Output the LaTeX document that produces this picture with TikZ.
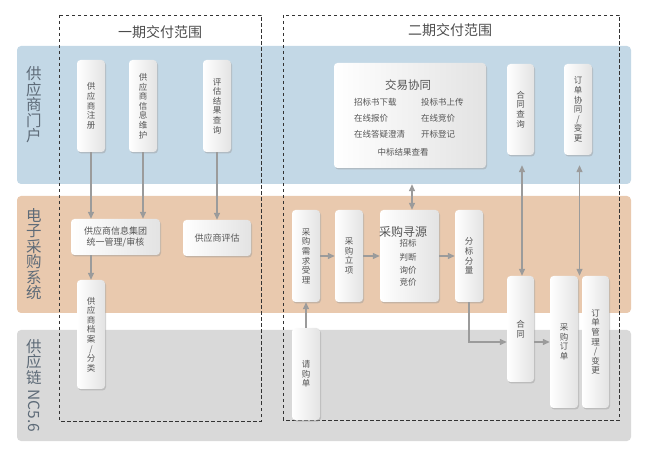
\documentclass[tikz,border=0pt]{standalone}
\usepackage{fontspec}
\setmainfont{Noto Sans CJK SC}
\usetikzlibrary{arrows.meta,shadows,calc}
\definecolor{bandblue}{HTML}{C3D8E6}
\definecolor{bandorange}{HTML}{E9C9AE}
\definecolor{bandgray}{HTML}{D9D9D9}
\definecolor{lbl}{HTML}{5E6B78}
\definecolor{txt}{HTML}{555555}
\definecolor{arr}{HTML}{9B9B9B}
\definecolor{dash}{HTML}{333333}
\tikzset{
  band/.style={rounded corners=4pt, draw=none},
  phase/.style={draw=dash, line width=0.9pt, dash pattern=on 3.5pt off 2.5pt},
  box/.style={rounded corners=3.5pt, draw=none, left color=white, right color=gray!22,
    drop shadow={shadow xshift=1pt, shadow yshift=-1.5pt, fill=black!40, opacity=0.45},
    inner sep=0pt, align=center, text=txt, font=\fontsize{8.5}{9.6}\selectfont},
  bandlabel/.style={text=lbl, align=center, inner sep=0pt, font=\fontsize{15.5}{15.5}\selectfont},
  title/.style={text=txt!90!black, inner sep=0pt, font=\fontsize{14}{16}\selectfont},
  small/.style={text=txt, inner sep=0pt, font=\fontsize{8.5}{10}\selectfont},
  flow/.style={draw=arr, line width=1.3pt, -{Triangle[length=7pt,width=6pt]}},
  flow2/.style={draw=arr, line width=1.3pt, {Triangle[length=7pt,width=6pt]}-{Triangle[length=7pt,width=6pt]}}
}
\begin{document}
\begin{tikzpicture}[x=1pt,y=-1pt]
\useasboundingbox (0,0) rectangle (651,454);
% bands
\fill[band, bandblue] (17,46) rectangle (631,184);
\fill[band, bandorange] (17,196) rectangle (631,313);
\fill[band, bandgray] (17,330) rectangle (631,441);
\node[bandlabel] (l1) at (34,105) {供\\应\\商\\门\\户};
\node[bandlabel] (l2) at (34,254) {电\\子\\采\\购\\系\\统};
\node[bandlabel] (l3) at (34,362) {供\\应\\链};
\node[bandlabel, rotate=-90] (l3b) at (34,411) {NC5.6};
% phases
\draw[phase] (59,15) rectangle (261,421);
\draw[phase] (283,15) rectangle (619,420);
\node[title] (t1) at (160,32) {一期交付范围};
\node[title] (t2) at (450,30) {二期交付范围};
% phase 1 nodes
\node[box, minimum width=28pt, minimum height=92pt] (reg) at (91,106) {供\\应\\商\\注\\册};
\node[box, minimum width=28pt, minimum height=92pt] (info) at (143,106) {供\\应\\商\\信\\息\\维\\护};
\node[box, minimum width=28pt, minimum height=92pt] (evalq) at (217,106) {评\\估\\结\\果\\查\\询};
\node[box, minimum width=89pt, minimum height=36pt, font=\fontsize{9}{10.5}\selectfont] (mgmt) at (115.5,237) {供应商信息集团\\统一管理/审核};
\node[box, minimum width=68pt, minimum height=36pt, font=\fontsize{9}{10.5}\selectfont] (evalu) at (217,238) {供应商评估};
\node[box, minimum width=28pt, minimum height=109pt] (arch) at (91,334.5) {供\\应\\商\\档\\案\\/\\分\\类};
% phase 2 nodes
\node[box, minimum width=152pt, minimum height=105pt] (jy) at (410,115.5) {};
\node[text=txt, inner sep=0pt, font=\fontsize{11.5}{13}\selectfont] (jyt) at (408,85) {交易协同};
\node[small, anchor=west] (j1) at (354,102) {招标书下载};
\node[small, anchor=west] (j2) at (421,102) {投标书上传};
\node[small, anchor=west] (j3) at (354,118) {在线报价};
\node[small, anchor=west] (j4) at (421,118) {在线竞价};
\node[small, anchor=west] (j5) at (354,134.5) {在线答疑澄清};
\node[small, anchor=west] (j6) at (421,134.5) {开标登记};
\node[small] (j7) at (403,152) {中标结果查看};
\node[box, minimum width=27pt, minimum height=91pt] (htq) at (520.5,109.5) {合\\同\\查\\询};
\node[box, minimum width=28pt, minimum height=91pt] (ddxt) at (578,109.5) {订\\单\\协\\同\\/\\变\\更};
\node[box, minimum width=28pt, minimum height=92pt] (xq) at (306,256) {采\\购\\需\\求\\受\\理};
\node[box, minimum width=28pt, minimum height=92pt] (lx) at (349,256) {采\\购\\立\\项};
\node[box, minimum width=59pt, minimum height=92pt] (xy) at (409.5,256) {};
\node[text=txt, inner sep=0pt, font=\fontsize{12}{13}\selectfont] (xyt) at (403,232) {采购寻源};
\node[small] (x1) at (408,243.5) {招标};
\node[small] (x2) at (408,257) {判断};
\node[small] (x3) at (408,270) {询价};
\node[small] (x4) at (408,282.5) {竞价};
\node[box, minimum width=28pt, minimum height=92pt] (fb) at (469,256) {分\\标\\分\\量};
\node[box, minimum width=27pt, minimum height=106pt] (ht) at (520.5,329) {合\\同};
\node[box, minimum width=28pt, minimum height=132pt] (cgdd) at (564,342) {采\\购\\订\\单};
\node[box, minimum width=27pt, minimum height=132pt] (ddgl) at (595.5,342) {订\\单\\管\\理\\/\\变\\更};
\node[box, minimum width=28pt, minimum height=92pt] (qgd) at (306,374) {请\\购\\单};
% arrows phase 1
\draw[flow] (reg.south) -- (reg.south |- mgmt.north);
\draw[flow] (info.south) -- (info.south |- mgmt.north);
\draw[flow] (evalq.south) -- (evalu.north);
\draw[flow] (arch.north |- mgmt.south) -- (arch.north);
% arrows phase 2
\draw[flow2] ($(jy.south)+(2,16)$) -- ($(jy.south |- xy.north)+(2,0)$);
\draw[flow2] ($(htq.south)+(1.5,10)$) -- ($(htq.south |- ht.north)+(1.5,0)$);
\draw[flow2] ($(ddxt.south)+(1.5,10)$) -- ($(ddxt.south |- cgdd.north)+(1.5,0)$);
\draw[flow] (xq.east) -- (lx.west);
\draw[flow] (lx.east) -- (xy.west);
\draw[flow] (xy.east) -- (fb.west);
\draw[flow, rounded corners=0pt] (fb.south) |- (cgdd.west -| ht.west);
\draw[flow] (cgdd.west -| ht.east) -- (cgdd.west);
\draw[flow] (qgd.north) -- (xq.south);
\end{tikzpicture}
\end{document}
